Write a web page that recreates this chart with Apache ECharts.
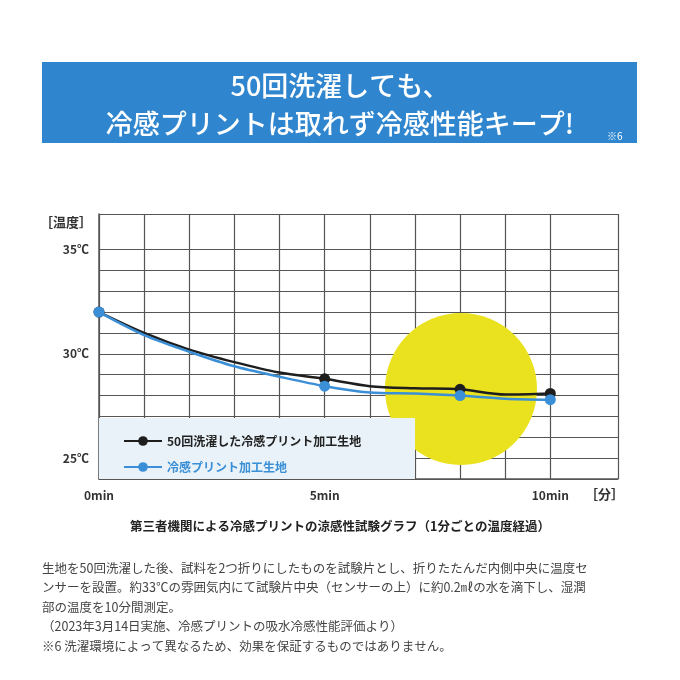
<!DOCTYPE html>
<html lang="ja">
<head>
<meta charset="UTF-8">
<title>冷感プリント</title>
<style>
  * { margin: 0; padding: 0; }
  html, body { width: 100%; height: 100%; background: #fff; }
  #chart-panel { width: 680px; height: 680px; }
</style>
</head>
<body>
<div id="chart-panel"></div>
<script src="https://cdn.jsdelivr.net/npm/echarts@6/dist/echarts.min.js"></script>
<script>
  const minutes = [0, 1, 2, 3, 4, 5, 6, 7, 8, 9, 10];
  const washed = [32.0, 31.0, 30.2, 29.6, 29.1, 28.8, 28.45, 28.35, 28.3, 28.05, 28.1];
  const fresh = [32.0, 30.9, 30.1, 29.4, 28.9, 28.45, 28.15, 28.1, 28.0, 27.85, 27.8];
  const markedMinutes = [0, 5, 8, 10];
  const xLabels = { 0: '0min', 5: '5min', 10: '10min' };
  const yLabels = { 25: '25℃', 30: '30℃', 35: '35℃' };

  const font = '"Noto Sans CJK JP", sans-serif';
  const gridCol = '#555';

  const myChart = echarts.init(document.getElementById('chart-panel'));

  const toData = vals => minutes.map((m, i) => ({
    value: [m, vals[i]],
    symbolSize: markedMinutes.includes(m) ? 11 : 0
  }));

  const option = {
    animation: false,
    textStyle: { fontFamily: font },
    grid: { left: 99, right: 62, top: 214, bottom: 201 },
    graphic: [
      { type: 'rect', left: 42, top: 62, shape: { width: 595, height: 81 }, style: { fill: '#2f86cf' }, z: 0 },
      { type: 'text', x: 340, y: 86, style: { text: '50回洗濯しても、', fill: '#fff', font: '500 27px ' + font, align: 'center', verticalAlign: 'middle' } },
      { type: 'text', x: 340, y: 124, style: { text: '冷感プリントは取れず冷感性能キープ!', fill: '#fff', font: '500 27px ' + font, align: 'center', verticalAlign: 'middle' } },
      { type: 'text', x: 607, y: 136, style: { text: '※6', fill: '#fff', font: '10px ' + font, verticalAlign: 'middle' } },
      { type: 'circle', shape: { cx: 461, cy: 389, r: 76 }, style: { fill: '#ebe21f' }, z: 1 },
      { type: 'rect', shape: { x: 99, y: 418, width: 316, height: 61 }, style: { fill: '#e8f2f8' }, z: 1 },
      { type: 'text', x: 40, y: 222, style: { text: '［温度］', fill: '#333', font: 'bold 13px ' + font, verticalAlign: 'middle' } },
      { type: 'text', x: 585, y: 494, style: { text: '［分］', fill: '#333', font: 'bold 13px ' + font, verticalAlign: 'middle' } },
      { type: 'text', x: 340, y: 526, style: { text: '第三者機関による冷感プリントの涼感性試験グラフ（1分ごとの温度経過）', fill: '#222', font: 'bold 12.5px ' + font, align: 'center', verticalAlign: 'middle' } },
      { type: 'text', x: 42, y: 558, style: { text: '生地を50回洗濯した後、試料を2つ折りにしたものを試験片とし、折りたたんだ内側中央に温度セ\nンサーを設置。約33℃の雰囲気内にて試験片中央（センサーの上）に約0.2㎖の水を滴下し、湿潤\n部の温度を10分間測定。\n（2023年3月14日実施、冷感プリントの吸水冷感性能評価より）\n※6 洗濯環境によって異なるため、効果を保証するものではありません。', fill: '#444', font: '12.5px ' + font, lineHeight: 19.5 } }
    ],
    legend: {
      orient: 'vertical', left: 118, top: 430, itemGap: 14, itemWidth: 38, itemHeight: 12,
      textStyle: { fontSize: 12, fontWeight: 'bold', fontFamily: font },
      data: [
        { name: '50回洗濯した冷感プリント加工生地', textStyle: { color: '#222' } },
        { name: '冷感プリント加工生地', textStyle: { color: '#3a8fd6' } }
      ]
    },
    xAxis: {
      type: 'value', min: 0, max: 11.5, interval: 1,
      axisLine: { lineStyle: { color: gridCol, width: 1.5 } },
      axisTick: { show: false },
      axisLabel: { formatter: v => xLabels[v] || '', color: '#333', fontWeight: 'bold', fontSize: 12, margin: 10, showMaxLabel: false },
      splitLine: { show: true, lineStyle: { color: [...Array(11).fill(gridCol), 'transparent'], width: 1.2 } }
    },
    yAxis: {
      type: 'value', min: 24, max: 36.7, interval: 1,
      axisLine: { show: true, lineStyle: { color: gridCol, width: 1.5 } },
      axisTick: { show: false },
      axisLabel: { formatter: v => yLabels[v] || '', color: '#333', fontWeight: 'bold', fontSize: 12, margin: 10, showMaxLabel: false },
      splitLine: { show: true, lineStyle: { color: [...Array(12).fill(gridCol), 'transparent'], width: 1.2 } }
    },
    series: [
      {
        name: '50回洗濯した冷感プリント加工生地', type: 'line', smooth: 0.3, z: 3,
        symbol: 'circle', color: '#1e1e1e', lineStyle: { width: 2.5 },
        data: toData(washed)
      },
      {
        name: '冷感プリント加工生地', type: 'line', smooth: 0.3, z: 4,
        symbol: 'circle', color: '#3a8fd6', lineStyle: { width: 2.5 },
        data: toData(fresh)
      }
    ]
  };
  myChart.setOption(option);
</script>
</body>
</html>
